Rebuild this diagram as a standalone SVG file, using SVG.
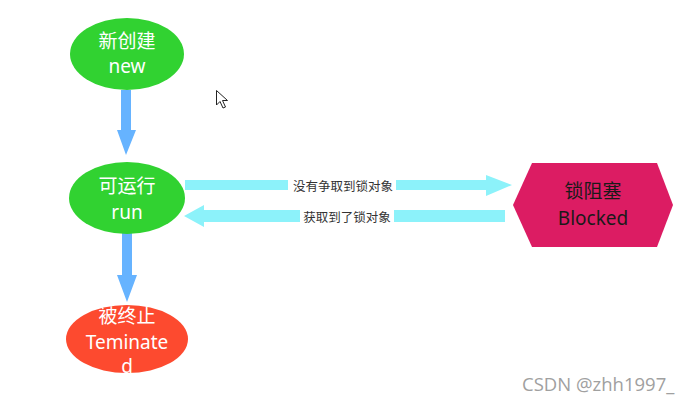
<svg xmlns="http://www.w3.org/2000/svg" width="695" height="401" viewBox="0 0 695 401">
<style>
.lbl{font-family:"Noto Sans CJK SC","Noto Sans",sans-serif;text-anchor:middle;}
.lat{font-family:"Noto Sans","Open Sans",sans-serif;text-anchor:middle;}
.big{font-size:19px;}
.w{fill:#ffffff;}
.k{fill:#1a1a1a;}
.edge{font-size:12.5px;fill:#333333;}
</style>
<rect width="695" height="401" fill="#ffffff"/>
<g id="connectors">
  <polygon fill="#66b3ff" points="121,90 131,90 131,130 136,130 126,155 117,130 121,130"/>
  <polygon fill="#66b3ff" points="122,233 132,233 132,275 137,275 127,302 117,275 122,275"/>
  <polygon fill="#8cf2fa" points="185,180 486,180 486,175 512,185 486,196 486,190 185,190"/>
  <polygon fill="#8cf2fa" points="505,210 204,210 204,205 184,216 204,227 204,222 505,222"/>
  <rect x="288" y="177" width="108" height="17" fill="#ffffff"/>
  <text class="lbl edge" x="343" y="190.5">没有争取到锁对象</text>
  <rect x="300" y="208" width="94" height="17" fill="#ffffff"/>
  <text class="lbl edge" x="347" y="221.5">获取到了锁对象</text>
</g>
<g id="new">
  <ellipse cx="127" cy="54" rx="57" ry="36" fill="#31d231"/>
  <text class="lbl big w" x="127" y="48">新创建</text>
  <text class="lat big w" x="127" y="73">new</text>
</g>
<g id="run">
  <ellipse cx="127" cy="198" rx="58" ry="36" fill="#31d231"/>
  <text class="lbl big w" x="127" y="193">可运行</text>
  <text class="lat big w" x="127" y="219">run</text>
</g>
<g id="terminated">
  <ellipse cx="127" cy="339" rx="61" ry="34" fill="#fd4a2f"/>
  <text class="lbl big w" x="127" y="323">被终止</text>
  <text class="lat big w" x="127" y="349">Teminate</text>
  <text class="lat big w" x="127" y="373">d</text>
</g>
<g id="blocked">
  <polygon fill="#dc1c63" points="513,205 532,163 657,163 673,205 657,247 532,247"/>
  <text class="lbl big k" x="593" y="198">锁阻塞</text>
  <text class="lat big k" x="593" y="225">Blocked</text>
</g>
<g id="cursor">
  <polygon fill="#ffffff" stroke="#222222" stroke-width="1" stroke-linejoin="round" points="216.5,90.5 216.5,105 220,101.5 223,108 225.5,107 222.5,100.5 227.5,100.5"/>
</g>
<text x="522" y="391" font-family="'Open Sans','Noto Sans',sans-serif" font-size="18.5" fill="#a0a0a0">CSDN @zhh1997_</text>
</svg>
